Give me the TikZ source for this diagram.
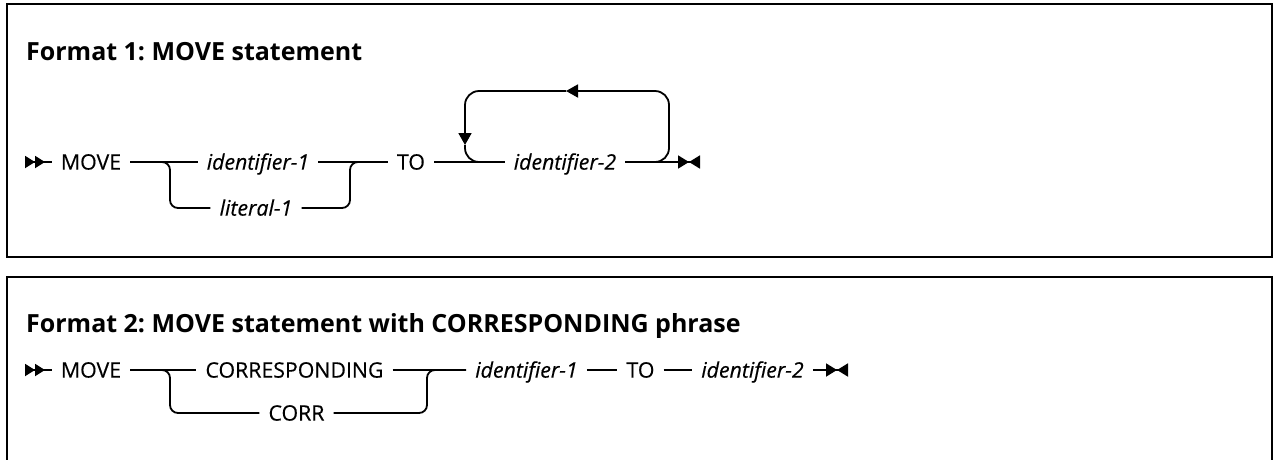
\documentclass[tikz,border=0pt]{standalone}
\usepackage{fontspec}
\setmainfont{Open Sans}
\newfontfamily\medfont{Open Sans}[FakeBold=0.35]
\frenchspacing
\usetikzlibrary{arrows.meta}
\tikzset{
  frame/.style={line width=2.4pt, draw=black},
  conn/.style={line width=1.8pt, draw=black},
  rc/.style={rounded corners=8pt},
  rcloop/.style={rounded corners=14pt},
  kw/.style={inner xsep=9pt, inner ysep=0pt, text height=15.2pt, text depth=0pt, font=\medfont\fontsize{21.3}{25}\selectfont},
  var/.style={kw, font=\medfont\fontsize{21.3}{25}\selectfont\itshape},
  ttl/.style={anchor=base west, inner sep=0pt, font=\fontsize{25}{29}\selectfont\bfseries},
  startmark/.style={{Triangle[reversed,length=10pt,width=12pt]Triangle[reversed,length=10pt,width=12pt]}-},
  endmark/.style={-{Triangle[length=11pt,width=13pt]Triangle[reversed,length=11pt,width=13pt]}},
  tri/.style={-{Triangle[length=12pt,width=13pt]}}
}
\begin{document}
\begin{tikzpicture}[x=1pt,y=-1pt]
\useasboundingbox (0,0) rectangle (1274,459);
\clip (0,0) rectangle (1274,459);
% frames
\draw[frame] (7,4) rectangle (1272,257);
\draw[frame] (7,475) -- (7,277) -- (1272,277) -- (1272,475);
% titles
\node[ttl] (t1) at (26,60) {Format 1: MOVE statement};
\node[ttl] (t2) at (26,332) {Format 2: MOVE statement with CORRESPONDING phrase};

% ---------- Format 1 ----------
\coordinate (s1) at (25,162);
\node[kw]  (m1)  at (91,162)  {MOVE};
\node[var] (i1)  at (258,162) {identifier-1};
\node[var] (l1)  at (256,208) {literal-1};
\node[kw]  (to1) at (411,162) {TO};
\node[var] (i2)  at (565,162) {identifier-2};
\coordinate (e1) at (700,162);
\coordinate (b1) at (170,208);
\coordinate (b2) at (350,208);
\coordinate (lpR) at (669,91);
\coordinate (lpL) at (465,91);
\coordinate (lpA) at (566,91);
\coordinate (lpB) at (465,145);

\draw[conn,startmark] (s1) -- (m1.west);
\draw[conn] (m1.east) -- (i1.west);
\draw[conn,rc] (m1.east) -| (b1) -- (l1.west);
\draw[conn,rc] (l1.east) -- (b2) |- (to1.west);
\draw[conn] (i1.east) -- (to1.west);
\draw[conn] (to1.east) -- (i2.west);
\draw[conn,endmark] (i2.east) -- (e1);
% repeat loop
\draw[conn,rcloop,tri] (i2.east) -| (lpR) -- (lpA);
\draw[conn,rcloop,tri] (lpA) -- (lpL) -- (lpB);
\draw[conn,rcloop] (lpB) |- (i2.west);

% ---------- Format 2 ----------
\coordinate (s2) at (25,370);
\node[kw]  (m2)  at (91,370)    {MOVE};
\node[kw]  (c2)  at (294.5,370) {CORRESPONDING};
\node[kw]  (cr2) at (296.5,413) {CORR};
\node[var] (i3)  at (526.5,370) {identifier-1};
\node[kw]  (to2) at (640.5,370) {TO};
\node[var] (i4)  at (752.5,370) {identifier-2};
\coordinate (e2) at (848,370);
\coordinate (b3) at (170,413);
\coordinate (b4) at (427,413);

\draw[conn,startmark] (s2) -- (m2.west);
\draw[conn] (m2.east) -- (c2.west);
\draw[conn,rc] (m2.east) -| (b3) -- (cr2.west);
\draw[conn,rc] (cr2.east) -- (b4) |- (i3.west);
\draw[conn] (c2.east) -- (i3.west);
\draw[conn] (i3.east) -- (to2.west);
\draw[conn] (to2.east) -- (i4.west);
\draw[conn,endmark] (i4.east) -- (e2);
\end{tikzpicture}
\end{document}
